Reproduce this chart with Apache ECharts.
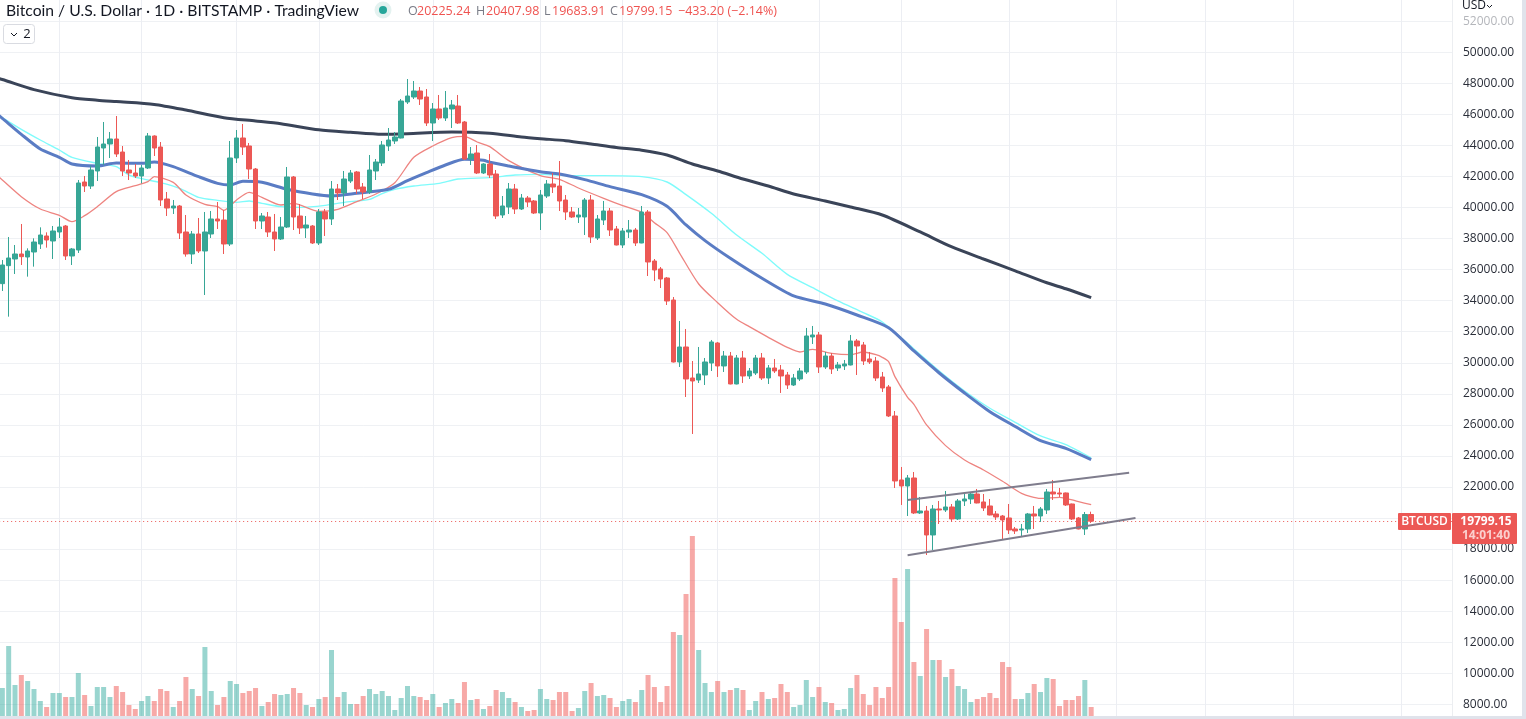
<!DOCTYPE html>
<html>
<head>
<meta charset="utf-8">
<title>BTCUSD</title>
<script src="https://cdn.jsdelivr.net/npm/echarts@6/dist/echarts.min.js"></script>
<style>
html, body { margin: 0; padding: 0; background: #e0e3eb; overflow: hidden; }
#chart { width: 1522px; height: 716px; background: #fff; }
</style>
</head>
<body>
<div id="chart"></div>
<script>
// daily candles
var opens = [35096,36255,36685,37007,36813,37135,37651,38166,37844,38424,
  38810,36878,37264,41644,41386,42353,43834,44092,44414,43576,
  42417,42224,42031,42546,44607,43898,40549,39969,40098,38424,
  37007,38295,37200,38295,39261,39196,37651,43190,44478,43963,
  42481,39132,39390,38424,37973,38746,41966,39454,38681,38810,
  37715,39712,39261,41193,40936,41708,42288,41322,41000,42353,
  42868,43963,44285,44478,46797,47119,47505,47119,45444,46346,
  45766,46346,46539,45509,43126,43512,42224,42803,42159,39518,
  40034,41193,39905,40613,40420,39647,40742,41515,41386,40484,
  39712,39390,39390,40484,38037,39196,39776,38617,37586,38423,
  38552,37715,39712,36555,36040,35461,34043,30050,31016,29020,
  28891,29213,29986,31275,29793,30437,28634,30308,29149,29342,
  30308,29020,29664,29535,29213,28569,28956,29407,31661,31790,
  29729,30437,29664,29793,29858,31403,31146,30244,30115,29085,
  28441,26572,22450,22064,22579,20325,20453,18908,20582,20518,
  20711,19938,21098,21226,21548,21033,20776,20260,20131,20003,
  19294,19230,19294,20260,20131,20518,21677,21613,21613,20904,
  20003,19294,20225.24];
var closes = [36298,36749,37007,36835,37200,37779,38230,37908,38488,38746,
  36878,37329,41580,41386,42417,43898,44092,44414,43448,42353,
  42224,42031,42546,44607,43834,40485,39969,40098,38359,37007,
  38295,37200,38424,39261,39132,37651,43190,44478,43898,42481,
  39132,39454,38424,37973,38746,41966,39390,38681,38874,37715,
  39712,39261,41193,40936,41837,42224,41193,41000,42417,42932,
  44027,44349,44543,46861,47183,47505,46990,45444,46346,45766,
  46410,46604,45444,43126,43448,42224,42803,42095,39454,40098,
  41193,39905,40613,40356,39647,40807,41515,41322,40420,39712,
  39390,39518,40484,38101,39261,39776,38552,37586,38488,38552,
  37715,39712,36491,35976,35396,33979,30050,31016,28955,28826,
  29277,30050,31339,29793,30437,28634,30308,29149,29471,30308,
  29020,29664,29471,29149,28569,29020,29471,31725,31790,29729,
  30437,29600,29858,29922,31403,31081,30115,30051,29020,28376,
  26573,22386,22064,22579,20325,20453,18908,20582,20518,20711,
  19938,21098,21226,21548,20969,20647,20196,20067,19874,19230,
  19165,19294,20260,20131,20582,21677,21548,21548,20840,19938,
  19294,20225,19799.15];
var highs = [36620,38102,37586,38939,37372,38016,38724,38402,38810,39325,
  38874,37393,41773,42031,42696,44543,45509,44865,45895,43963,
  43061,42803,42739,44800,44650,44220,41000,40485,40163,39519,
  38488,39325,39712,39776,40356,39841,44285,44993,45380,44156,
  42546,39647,39712,39583,39390,42610,42031,40227,39454,38874,
  39905,39905,41708,41515,42353,42417,42353,41580,43383,43126,
  44285,45122,44865,46990,48278,48149,47763,47634,46732,47248,
  47505,46926,47248,45573,43898,44027,42850,43448,42417,40742,
  41579,41515,40871,40742,40484,41129,41773,42224,42996,40807,
  40034,39969,40613,40807,39518,40420,39969,38810,38681,39196,
  38681,40098,39840,36684,36169,35525,34237,32691,32176,30114,
  31016,30308,31468,31339,30759,30695,30502,30759,29664,30502,
  30630,29858,30244,29858,29407,29278,29664,32241,32370,31983,
  30695,30630,30051,30180,31790,31532,31339,30695,30373,29407,
  28569,26894,23288,22772,22965,21355,20776,20840,21098,21742,
  20904,21226,21548,21677,21871,21548,21226,20453,20196,20904,
  19423,19616,20325,20776,20711,21871,22450,21935,21640,20930,
  20067,20389,20407.98];
var lows = [34623,32970,35718,36298,35547,36191,37329,37414,36685,38037,
  36620,36298,37071,41000,41193,41708,42739,43190,43254,42031,
  41773,41902,41558,42481,43319,40098,39454,39583,37973,36835,
  36362,37071,34366,38037,38617,37007,37522,42868,43383,41837,
  38617,38617,38102,37200,37908,38681,38552,38295,38037,37651,
  37586,38166,38874,40485,40098,41580,40871,40549,40871,41773,
  42675,43641,44092,44450,46668,46990,46604,45251,44285,45637,
  45573,45122,45380,43061,42739,42159,42159,41902,39261,39325,
  39583,39583,39840,40034,39583,38552,40613,40935,39776,39196,
  39325,39003,38230,37715,37908,38874,38166,37560,37393,38037,
  37522,37700,35589,35267,34816,33721,30020,29728,27796,25413,
  28697,28569,29471,29085,29407,28610,28610,28698,28956,29213,
  28891,28634,29342,28054,28312,28505,28827,29278,31210,29342,
  29600,29278,29471,29535,29830,29213,29858,29922,28827,28118,
  26508,21935,20840,20131,20260,20260,17619,17941,19616,20389,
  19745,19874,20776,20904,20945,20453,20170,19874,18650,18972,
  18972,18779,19036,19294,19745,20260,21162,21355,20776,19874,
  19270,18908,19683.91];
var volumes = [4200,10500,4650,6150,5250,4050,2250,1350,3450,3450,
  2850,2850,6450,3150,1500,4350,4350,2850,4500,3600,
  1650,1050,2250,3000,2250,4050,3750,1350,2250,5850,
  4050,3000,10350,3750,1650,2850,5250,4800,3450,3750,
  4200,1500,2100,3300,3150,3300,4200,3450,1650,1350,
  2550,2850,9900,2850,3600,1800,1800,3000,4050,3300,
  3750,3000,900,2700,4500,3000,2850,2400,3300,1350,
  1950,2550,1950,5100,2400,2550,1050,1500,3900,3600,
  2700,2100,1350,750,900,4050,2550,2400,3600,3600,
  750,1200,3750,4950,3000,3150,2700,1350,2250,2550,
  2100,3900,6150,4350,2100,4500,12600,12150,18300,27000,
  9900,4950,3600,5250,3600,3900,4200,3900,900,2250,
  3600,2550,2700,4800,3600,1350,1650,5400,2850,4350,
  2100,1950,900,1050,4200,6150,3300,1650,4350,2700,
  4350,20700,14100,22050,8100,6000,13050,8400,8400,5850,
  7050,4500,4050,2100,2550,2850,3450,2700,8100,7350,
  2550,2550,3450,4800,3600,5700,5550,1500,2400,2400,
  3000,5400,1350];

// moving averages, [candle index, value]. index -1 is the candle just off the left edge
var maBlack = [[-1,48340],[0,48246],[5,47596],[11,47074],[15,46913],[18,46823],[24,46643],[29,46282],[35,45786],[40,45573],[44,45393],
  [50,45006],[55,44846],[60,44717],[64,44755],[71,44865],[77,44781],[82,44543],[85,44433],[89,44305],[93,44092],
  [97,43867],[101,43693],[105,43384],[109,42804],[113,42353],[117,41838],[121,41387],[125,40872],[130,40421],[134,40034],
  [139,39519],[145,38424],[150,37458],[155,36685],[160,35925],[165,35152],[168,34766],[172,34193]];
var maBlue = [[-1,46080],[0,45745],[3,44714],[6,43770],[9,43233],[11,42803],[15,42675],[18,42868],[22,42846],[24,42932],[27,42632],
  [31,41988],[34,41558],[36,41451],[38,41687],[41,41623],[45,41172],[49,40871],[52,40742],[56,40914],[61,41172],
  [64,41730],[67,42245],[70,42739],[73,43104],[76,43040],[77,42911],[80,42675],[85,42310],[88,42160],[92,41795],
  [96,41344],[101,40829],[105,40077],[108,38875],[111,37866],[115,36728],[120,35440],[125,34302],[130,33787],[135,33078],
  [140,32260],[144,30759],[148,29342],[152,28054],[156,26850],[160,25896],[164,24981],[168,24492],[172,23758]];
var maCyan = [[-1,46040],[0,45788],[3,45036],[6,44349],[9,43705],[11,43233],[15,42846],[18,42632],[20,42095],[22,41859],[25,41601],
  [28,41236],[31,40656],[34,40463],[37,40334],[39,40420],[41,40270],[44,40055],[47,40012],[51,40141],[54,40334],
  [58,40528],[60,40893],[62,41172],[65,41386],[69,41558],[72,41837],[77,41924],[81,42095],[85,42138],[90,42052],
  [95,42052],[101,41988],[105,41644],[108,40829],[112,39626],[116,38231],[120,37050],[124,35698],[128,34838],[132,33980],
  [136,33227],[139,32627],[144,30888],[148,29471],[152,28183],[156,27069],[160,26166],[164,25285],[168,24724],[172,23867]];
var maRed = [[-1,42130],[0,41773],[3,40700],[6,39905],[9,39497],[11,39089],[13,39476],[15,40056],[18,41022],[21,41408],[23,41666],
  [24,41988],[27,41623],[29,40807],[32,40206],[34,40055],[35,39819],[37,40485],[39,40979],[41,40657],[44,40162],
  [46,40270],[50,39755],[53,39883],[56,40377],[59,40871],[62,41601],[65,43233],[68,43963],[71,44500],[73,44586],
  [75,44220],[77,43920],[80,43019],[85,42052],[88,41816],[91,41258],[95,40592],[98,40120],[101,39691],[103,39025],
  [105,38381],[107,37050],[110,35075],[113,33872],[116,32799],[118,32327],[121,31640],[124,30995],[126,30695],[128,30867],
  [131,30609],[134,30523],[136,30695],[138,30523],[139,30351],[140,30072],[141,29106],[143,27775],[144,27324],[146,25993],
  [149,24662],[152,23738],[155,23094],[158,22364],[161,21591],[164,21269],[167,21334],[170,21055],[172,20861]];

// hand drawn channel
var channelTop = [[143,21162],[178,22920]];
var channelBottom = [[143,17600],[179,19997]];

var lastPrice = 19799.15;
var slotCount = 230;
var monthLines = [9,22,37,50,68,85,98,113,129,142,159,176,190,204,221];

var slots = [];
for (var i = 0; i < slotCount; i++) slots.push(String(i));

var upColor = '#37a696', downColor = '#ec5855';
var font = '"Open Sans", "Noto Sans", sans-serif';

var candles = opens.map(function (o, i) { return [o, closes[i], lows[i], highs[i]]; });
var volumeBars = volumes.map(function (v, i) {
  return { value: v, itemStyle: { color: closes[i] >= opens[i] ? 'rgba(38,166,154,0.47)' : 'rgba(239,83,80,0.5)' } };
});

function maSeries(data, color, width) {
  return {
    type: 'line', data: data, showSymbol: false, silent: true, z: 1,
    lineStyle: { color: color, width: width }, smooth: 0.25
  };
}
function channelSeries(data) {
  return {
    type: 'line', data: data, showSymbol: false, silent: true, z: 5,
    lineStyle: { color: '#7f7d8d', width: 2 }
  };
}
function headerText(text, x, color) {
  return { type: 'text', z: 50, style: { text: text, x: x, y: 11, fill: color, font: '12.5px ' + font, align: 'left', verticalAlign: 'middle' } };
}

var chart = echarts.init(document.getElementById('chart'));
chart.setOption({
  animation: false,
  backgroundColor: '#fff',
  grid: [
    { left: -0.83, width: 1456, top: -9.83, height: 745.2, outerBoundsMode: 'none' },
    { left: -0.83, width: 1456, top: 356, height: 360, outerBoundsMode: 'none' }
  ],
  xAxis: [
    {
      type: 'category', data: slots, gridIndex: 0,
      axisLine: { show: false }, axisTick: { show: false }, axisLabel: { show: false },
      splitLine: {
        show: true, alignWithLabel: true,
        interval: function (idx) { return monthLines.indexOf(idx) >= 0; },
        lineStyle: { color: '#eceef3', width: 1 }
      }
    },
    { type: 'category', data: slots, gridIndex: 1, show: false }
  ],
  yAxis: [
    {
      type: 'value', gridIndex: 0, position: 'right', offset: -3.17,
      min: 6000, max: 54000, interval: 2000,
      axisLine: { show: true, lineStyle: { color: '#e0e3e8' } },
      axisTick: { show: false },
      splitLine: { show: true, lineStyle: { color: '#eff1f4', width: 1 } },
      axisLabel: {
        margin: 11, fontSize: 12, fontFamily: font,
        color: function (v) { return v == 52000 ? '#b4b6bb' : '#2a2e39'; },
        // 20000 sits under the last price tag
        formatter: function (v) { return v == 20000 ? '' : v.toFixed(2); }
      }
    },
    { type: 'value', gridIndex: 1, min: 0, max: 54000, show: false }
  ],
  series: [
    { type: 'bar', xAxisIndex: 1, yAxisIndex: 1, data: volumeBars, barWidth: 5, silent: true, z: 1 },
    maSeries(maCyan, '#7ffbfb', 1.4),
    maSeries(maRed, '#ee8480', 1.3),
    maSeries(maBlue, '#5a7cc4', 3),
    maSeries(maBlack, '#3a4458', 3),
    {
      type: 'candlestick', data: candles, barWidth: 5, z: 3, silent: true,
      itemStyle: { color: upColor, color0: downColor, borderColor: upColor, borderColor0: downColor, borderWidth: 1 },
      markLine: {
        silent: true, symbol: 'none', animation: false, label: { show: false },
        lineStyle: { type: [1, 3], color: downColor, width: 1 },
        data: [{ yAxis: lastPrice }]
      }
    },
    channelSeries(channelTop),
    channelSeries(channelBottom)
  ],
  graphic: [
    // cover where the plot runs past the price scale
    { type: 'rect', z: 40, shape: { x: 1452.6, y: 0, width: 4, height: 716 }, style: { fill: '#fff' } },
    // header
    { type: 'text', z: 50, style: { text: 'Bitcoin / U.S. Dollar \u00b7 1D \u00b7 BITSTAMP \u00b7 TradingView', x: 6, y: 11, fill: '#131722', font: '15.7px Lato, ' + font, align: 'left', verticalAlign: 'middle' } },
    { type: 'circle', z: 50, shape: { cx: 383, cy: 10, r: 8.5 }, style: { fill: '#e4f2f0' } },
    { type: 'circle', z: 51, shape: { cx: 383, cy: 10, r: 4 }, style: { fill: '#26a69a' } },
    headerText('O', 408, '#787b86'), headerText('20225.24', 417, '#ef5350'),
    headerText('H', 476, '#787b86'), headerText('20407.98', 486, '#ef5350'),
    headerText('L', 544, '#787b86'), headerText('19683.91', 552, '#ef5350'),
    headerText('C', 610, '#787b86'), headerText('19799.15', 619, '#ef5350'),
    headerText('\u2212433.20 (\u22122.14%)', 678, '#ef5350'),
    // collapsed legend button
    { type: 'rect', z: 50, shape: { x: 3.5, y: 24.5, width: 31, height: 19, r: 3 }, style: { fill: '#fff', stroke: '#d9dbe1', lineWidth: 1 } },
    { type: 'polyline', z: 51, shape: { points: [[11, 33], [14, 36], [17, 33]] }, style: { stroke: '#131722', lineWidth: 1, fill: 'none' } },
    { type: 'text', z: 51, style: { text: '2', x: 27, y: 34, fill: '#131722', font: '13px ' + font, align: 'center', verticalAlign: 'middle' } },
    // currency
    { type: 'text', z: 50, style: { text: 'USD', x: 1462, y: 6, fill: '#131722', font: '12px ' + font, align: 'left', verticalAlign: 'middle' } },
    { type: 'polyline', z: 51, shape: { points: [[1487, 5], [1489.5, 7.5], [1492, 5]] }, style: { stroke: '#131722', lineWidth: 1, fill: 'none' } },
    // price tags
    { type: 'rect', z: 60, shape: { x: 1398, y: 513, width: 53, height: 17, r: 1 }, style: { fill: downColor } },
    { type: 'text', z: 61, style: { text: 'BTCUSD', x: 1424.5, y: 521.5, fill: '#fff', font: '600 12px ' + font, align: 'center', verticalAlign: 'middle' } },
    { type: 'rect', z: 60, shape: { x: 1452, y: 513, width: 65, height: 31, r: 1 }, style: { fill: downColor } },
    { type: 'text', z: 61, style: { text: '19799.15', x: 1486, y: 521.5, fill: '#fff', font: '700 12px ' + font, align: 'center', verticalAlign: 'middle' } },
    { type: 'text', z: 61, style: { text: '14:01:40', x: 1486, y: 535.5, fill: '#fbd0ce', font: '700 12px ' + font, align: 'center', verticalAlign: 'middle' } }
  ]
});
</script>
</body>
</html>
